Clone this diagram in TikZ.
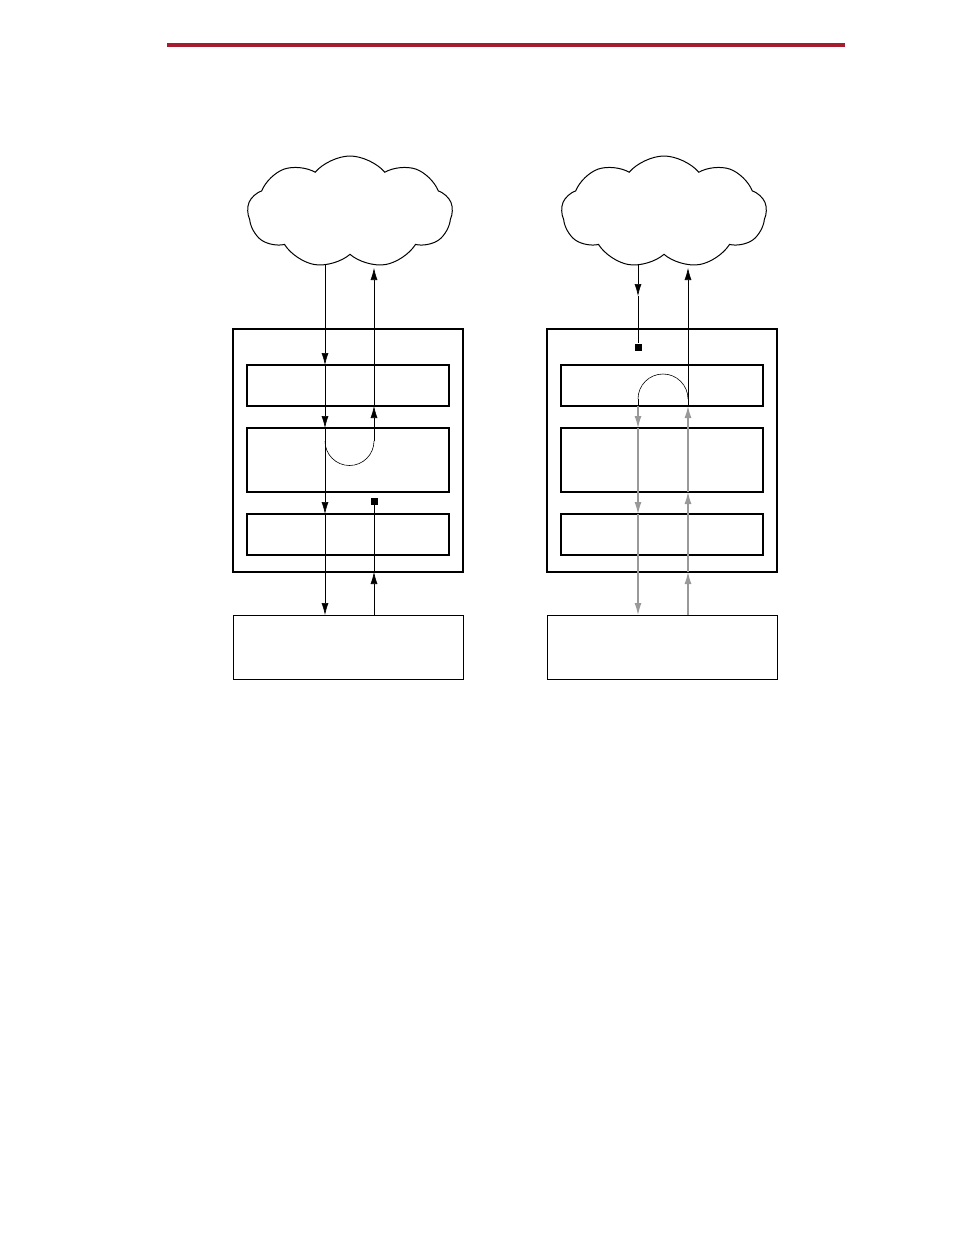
\documentclass[tikz,border=0pt]{standalone}
\usetikzlibrary{shapes.symbols,arrows.meta}
\definecolor{hdr}{HTML}{A51C2E}
\tikzset{
 box/.style={draw,line width=1.3pt,inner sep=0pt},
 ln/.style={line width=0.6pt},
 gl/.style={line width=1.2pt,draw=black!40},
 ar/.style={-{Latex[length=12pt,width=7pt]}},
 sq/.style={fill=black,minimum size=7pt,inner sep=0pt},
 cl/.style={draw,line width=1pt,cloud,cloud puffs=9,cloud puff arc=100,aspect=1.8,minimum width=205pt,minimum height=112pt,inner sep=0pt}
}
\begin{document}
\begin{tikzpicture}[x=1pt,y=-1pt]
\useasboundingbox (0,0) rectangle (954,1235);
\draw[hdr,line width=4pt] (167,45) -- (845,45);
\foreach \p/\X in {L/0,R/314}{
\begin{scope}[xshift=\X]
\node[cl,shape border rotate=10] (\p cloud) at (350,212) {};
\draw[box] (233,329) rectangle (463,572);
\draw[box] (247,365) rectangle (449,406);
\draw[box] (247,428) rectangle (449,492);
\draw[box] (247,514) rectangle (449,555);
\draw[box,line width=1pt] (233,615) rectangle (463,679);
\end{scope}}
% left
\coordinate (a0) at (325,264);
\draw[ln,ar] (a0) -- (325,365);
\draw[ln,ar] (325,365) -- (325,428);
\draw[ln,ar] (325,428) -- (325,514);
\draw[ln,ar] (325,514) -- (325,615);
\draw[ln] (325,441) arc (180:0:24.5 and 24.5);
\draw[ln,ar] (374,441) -- (374,406);
\draw[ln,ar] (374,406) -- (374,268);
\node[sq] (sqL) at (374,501) {};
\draw[ln,ar] (374,615) -- (374,572);
\draw[ln] (374,572) -- (sqL);
% right
\draw[ln,ar] (638,264) -- (638,296);
\node[sq] (sqR) at (638,347) {};
\draw[ln] (638,296) -- (sqR);
\draw[ln] (638,399) arc (180:0:25 and -25);
\draw[ln,ar] (688,399) -- (688,268);
\draw[gl,ar] (638,406) -- (638,428);
\draw[gl,ar] (638,428) -- (638,514);
\draw[gl,ar] (638,514) -- (638,615);
\draw[gl,ar] (688,615) -- (688,572);
\draw[gl,ar] (688,572) -- (688,492);
\draw[gl,ar] (688,492) -- (688,406);
\draw[ln] (638,399) -- (638,406) (688,399)--(688,406);
\end{tikzpicture}
\end{document}
